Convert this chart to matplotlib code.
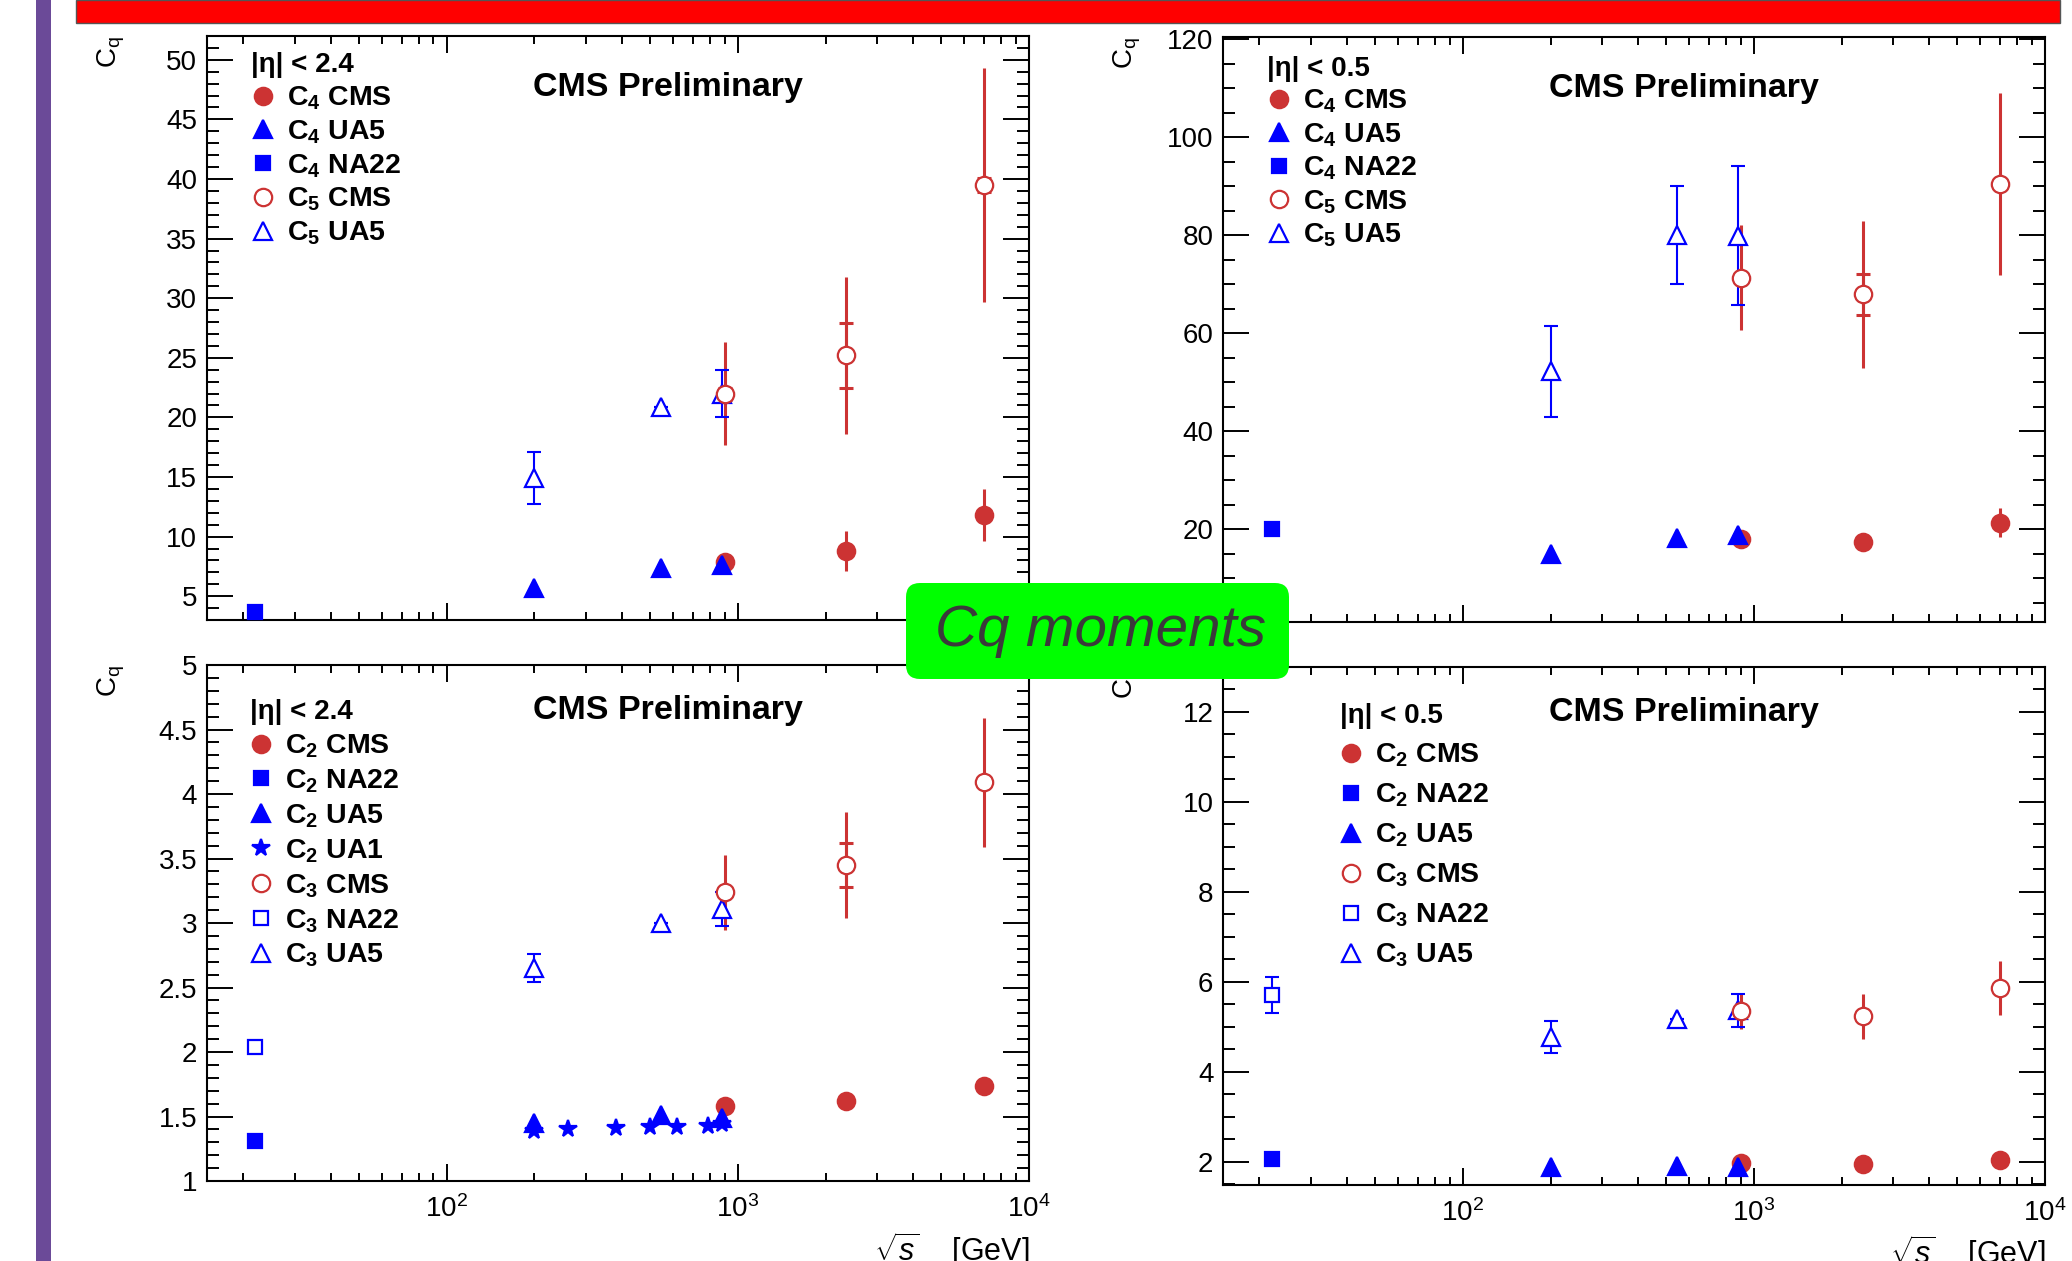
import numpy as np
import matplotlib
matplotlib.use("Agg")
import matplotlib.pyplot as plt
from matplotlib.ticker import MultipleLocator, FuncFormatter, NullFormatter
from matplotlib.patches import Rectangle, FancyBboxPatch

plt.rcParams['font.family'] = ['Liberation Sans', 'DejaVu Sans']
plt.rcParams['mathtext.fontset'] = 'custom'
plt.rcParams['mathtext.rm'] = 'Liberation Sans'
plt.rcParams['mathtext.it'] = 'Liberation Sans:italic'
plt.rcParams['mathtext.bf'] = 'Liberation Sans:bold'

RED = '#cc3333'
BLUE = '#0000ff'

# sqrt(s) in GeV
x_cms = [900, 2360, 7000]
x_ua5 = [200, 546, 880]
x_na22 = [22]
x_ua1 = [200, 260, 380, 500, 620, 790, 880]

# |eta| < 2.4, C4 / C5
c4_cms_24 = [7.9, 8.8, 11.8]
c4_cms_24_err = [0.3, 1.7, 2.2]
c4_ua5_24 = [5.7, 7.4, 7.6]
c4_na22_24 = [3.7]
c5_cms_24 = [22.0, 25.2, 39.5]
c5_cms_24_err = [4.3, 6.6, 9.8]
c5_cms_24_sys = [0.5, 2.7, 0.6]
c5_ua5_24 = [14.9, 20.9, 22.0]
c5_ua5_24_err = [2.2, 0.0, 2.0]

# |eta| < 0.5, C4 / C5
c4_cms_05 = [18.0, 17.5, 21.4]
c4_cms_05_err = [0.5, 0.6, 3.0]
c4_ua5_05 = [14.9, 18.2, 18.8]
c4_na22_05 = [20.0]
c5_cms_05 = [71.4, 68.0, 90.5]
c5_cms_05_err = [10.8, 15.0, 18.6]
c5_cms_05_sys = [1.0, 4.2, 1.0]
c5_ua5_05 = [52.3, 80.1, 79.9]
c5_ua5_05_err = [9.3, 10.0, 14.2]

# |eta| < 2.4, C2 / C3
c2_cms_24 = [1.58, 1.62, 1.735]
c2_na22_24 = [1.31]
c2_ua5_24 = [1.45, 1.51, 1.49]
c2_ua1_24 = [1.39, 1.40, 1.41, 1.42, 1.42, 1.43, 1.445]
c3_cms_24 = [3.24, 3.45, 4.09]
c3_cms_24_err = [0.29, 0.41, 0.50]
c3_cms_24_sys = [0.03, 0.17, 0.03]
c3_na22_24 = [2.04]
c3_ua5_24 = [2.65, 3.0, 3.11]
c3_ua5_24_err = [0.11, 0.0, 0.13]

# |eta| < 0.5, C2 / C3
c2_cms_05 = [1.97, 1.95, 2.03]
c2_na22_05 = [2.06]
c2_ua5_05 = [1.88, 1.91, 1.88]
c3_cms_05 = [5.35, 5.23, 5.86]
c3_cms_05_err = [0.4, 0.5, 0.6]
c3_na22_05 = [5.7]
c3_na22_05_err = [0.4]
c3_ua5_05 = [4.77, 5.18, 5.36]
c3_ua5_05_err = [0.36, 0.0, 0.37]

MS = 12.5


def pts(ax, x, y, marker, color, filled, label, ms=MS):
    fc = color if filled else 'white'
    h, = ax.plot(x, y, ls='none', marker=marker, ms=ms, mfc=fc, mec=color,
                 mew=1.6, zorder=4, label=label)
    return h


def cms_err(ax, x, y, err, sys=None):
    ax.errorbar(x, y, yerr=err, fmt='none', ecolor=RED, elinewidth=2.2,
                capsize=0, zorder=2)
    if sys is not None:
        ax.errorbar(x, y, yerr=sys, fmt='none', ecolor=RED, elinewidth=2.2,
                    capsize=5, capthick=2.2, zorder=2)


def ua5_err(ax, x, y, err):
    ax.errorbar(x, y, yerr=err, fmt='none', ecolor=BLUE, elinewidth=1.5,
                capsize=5, capthick=1.5, zorder=2)


def style(ax, ylim, major, minor, bottom_labels):
    ax.set_xscale('log')
    ax.set_xlim(15, 1e4)
    ax.set_ylim(*ylim)
    ax.yaxis.set_major_locator(MultipleLocator(major))
    ax.yaxis.set_minor_locator(MultipleLocator(minor))
    ax.yaxis.set_major_formatter(FuncFormatter(lambda v, p: '%g' % v))
    ax.xaxis.set_minor_formatter(NullFormatter())
    ax.tick_params(axis='y', which='major', direction='in', length=19, width=1.4,
                   left=True, right=True, labelsize=20, pad=7)
    ax.tick_params(axis='y', which='minor', direction='in', length=8.5, width=1.4,
                   left=True, right=True)
    ax.tick_params(axis='x', which='major', direction='in', length=12, width=1.4,
                   top=True, bottom=True, labelsize=20, pad=10,
                   labelbottom=bottom_labels)
    ax.tick_params(axis='x', which='minor', direction='in', length=6, width=1.4,
                   top=True, bottom=True)
    for s in ax.spines.values():
        s.set_linewidth(1.5)
    ax.set_ylabel(r'C$_\mathrm{q}$', fontsize=20, loc='top')
    ax.yaxis.set_label_coords(-0.097, 1.0)
    if bottom_labels:
        ax.set_xlabel(r'$\sqrt{s}$    [GeV]', fontsize=22, loc='right', labelpad=5)
    ax.text(0.561, 0.912, 'CMS Preliminary', transform=ax.transAxes,
            ha='center', va='center', fontsize=24.5, fontweight='bold')


def legend(ax, handles, title, x, y, spacing):
    leg = ax.legend(handles=handles, loc='upper left', bbox_to_anchor=(x, y),
                    frameon=False, borderpad=0, borderaxespad=0,
                    handlelength=0.8, handletextpad=0.45, labelspacing=spacing,
                    title=title, alignment='left',
                    prop={'weight': 'bold', 'size': 20.5},
                    title_fontproperties={'weight': 'bold', 'size': 20})
    return leg


fig = plt.figure(figsize=(20.72, 12.61), dpi=100)

# decorations of the slide
fig.patches.append(Rectangle((36, 0), 15, 1261, transform=None,
                             fc='#6b4a98', ec='none', zorder=0))
fig.patches.append(Rectangle((76, 1261 - 23), 1984, 23, transform=None,
                             fc='#ff0000', ec='#555555', lw=1, zorder=0))

ax_tl = fig.add_axes([0.0999, 0.5083, 0.3967, 0.4632])
ax_tr = fig.add_axes([0.5903, 0.5067, 0.3967, 0.4640])
ax_bl = fig.add_axes([0.0999, 0.0634, 0.3967, 0.4092])
ax_br = fig.add_axes([0.5903, 0.0603, 0.3967, 0.4108])

# top left: C4, C5 |eta| < 2.4
ax = ax_tl
cms_err(ax, x_cms, c4_cms_24, c4_cms_24_err)
cms_err(ax, x_cms, c5_cms_24, c5_cms_24_err, c5_cms_24_sys)
ua5_err(ax, x_ua5, c5_ua5_24, c5_ua5_24_err)
h1 = pts(ax, x_cms, c4_cms_24, 'o', RED, True, r'C$_\mathbf{4}$ CMS')
h2 = pts(ax, x_ua5, c4_ua5_24, '^', BLUE, True, r'C$_\mathbf{4}$ UA5')
h3 = pts(ax, x_na22, c4_na22_24, 's', BLUE, True, r'C$_\mathbf{4}$ NA22', ms=10.5)
h5 = pts(ax, x_ua5, c5_ua5_24, '^', BLUE, False, r'C$_\mathbf{5}$ UA5')
h4 = pts(ax, x_cms, c5_cms_24, 'o', RED, False, r'C$_\mathbf{5}$ CMS')
style(ax, (3, 52), 5, 1, False)
legend(ax, [h1, h2, h3, h4, h5], '|η| < 2.4', 0.054, 0.972, 0.22)

# top right: C4, C5 |eta| < 0.5
ax = ax_tr
cms_err(ax, x_cms, c4_cms_05, c4_cms_05_err)
cms_err(ax, x_cms, c5_cms_05, c5_cms_05_err, c5_cms_05_sys)
ua5_err(ax, x_ua5, c5_ua5_05, c5_ua5_05_err)
h1 = pts(ax, x_cms, c4_cms_05, 'o', RED, True, r'C$_\mathbf{4}$ CMS')
h2 = pts(ax, x_ua5, c4_ua5_05, '^', BLUE, True, r'C$_\mathbf{4}$ UA5')
h3 = pts(ax, x_na22, c4_na22_05, 's', BLUE, True, r'C$_\mathbf{4}$ NA22', ms=10.5)
h5 = pts(ax, x_ua5, c5_ua5_05, '^', BLUE, False, r'C$_\mathbf{5}$ UA5')
h4 = pts(ax, x_cms, c5_cms_05, 'o', RED, False, r'C$_\mathbf{5}$ CMS')
style(ax, (1.1, 120.5), 20, 5, False)
legend(ax, [h1, h2, h3, h4, h5], '|η| < 0.5', 0.054, 0.968, 0.21)

# bottom left: C2, C3 |eta| < 2.4
ax = ax_bl
cms_err(ax, x_cms, c3_cms_24, c3_cms_24_err, c3_cms_24_sys)
ua5_err(ax, x_ua5, c3_ua5_24, c3_ua5_24_err)
h1 = pts(ax, x_cms, c2_cms_24, 'o', RED, True, r'C$_\mathbf{2}$ CMS')
h2 = pts(ax, x_na22, c2_na22_24, 's', BLUE, True, r'C$_\mathbf{2}$ NA22', ms=10.5)
h3 = pts(ax, x_ua5, c2_ua5_24, '^', BLUE, True, r'C$_\mathbf{2}$ UA5')
h4 = pts(ax, x_ua1, c2_ua1_24, '*', BLUE, True, r'C$_\mathbf{2}$ UA1', ms=13)
h7 = pts(ax, x_ua5, c3_ua5_24, '^', BLUE, False, r'C$_\mathbf{3}$ UA5')
h6 = pts(ax, x_na22, c3_na22_24, 's', BLUE, False, r'C$_\mathbf{3}$ NA22', ms=10.5)
h5 = pts(ax, x_cms, c3_cms_24, 'o', RED, False, r'C$_\mathbf{3}$ CMS')
style(ax, (1, 5), 0.5, 0.1, True)
legend(ax, [h1, h2, h3, h4, h5, h6, h7], '|η| < 2.4', 0.052, 0.934, 0.26)

# bottom right: C2, C3 |eta| < 0.5
ax = ax_br
cms_err(ax, x_cms, c3_cms_05, c3_cms_05_err)
ua5_err(ax, x_ua5, c3_ua5_05, c3_ua5_05_err)
ua5_err(ax, x_na22, c3_na22_05, c3_na22_05_err)
h1 = pts(ax, x_cms, c2_cms_05, 'o', RED, True, r'C$_\mathbf{2}$ CMS')
h2 = pts(ax, x_na22, c2_na22_05, 's', BLUE, True, r'C$_\mathbf{2}$ NA22', ms=10.5)
h3 = pts(ax, x_ua5, c2_ua5_05, '^', BLUE, True, r'C$_\mathbf{2}$ UA5')
h6 = pts(ax, x_ua5, c3_ua5_05, '^', BLUE, False, r'C$_\mathbf{3}$ UA5')
h5 = pts(ax, x_na22, c3_na22_05, 's', BLUE, False, r'C$_\mathbf{3}$ NA22', ms=10.5)
h4 = pts(ax, x_cms, c3_cms_05, 'o', RED, False, r'C$_\mathbf{3}$ CMS')
style(ax, (1.48, 13.0), 2, 0.5, True)
legend(ax, [h1, h2, h3, h4, h5, h6], '|η| < 0.5', 0.142, 0.930, 0.44)

# green label box over the middle
box = FancyBboxPatch((9.06, 12.61 - 6.79), 3.83, 0.96,
                     boxstyle='round,pad=0,rounding_size=0.14',
                     transform=fig.dpi_scale_trans, fc='#00ff00', ec='none',
                     zorder=10)
fig.patches.append(box)
fig.text(11.01, 12.61 - 6.31, 'Cq moments', transform=fig.dpi_scale_trans,
         ha='center', va='center', fontsize=42, style='italic', color='#3a3a3a',
         zorder=11)

fig.savefig('out.png', dpi=100)
